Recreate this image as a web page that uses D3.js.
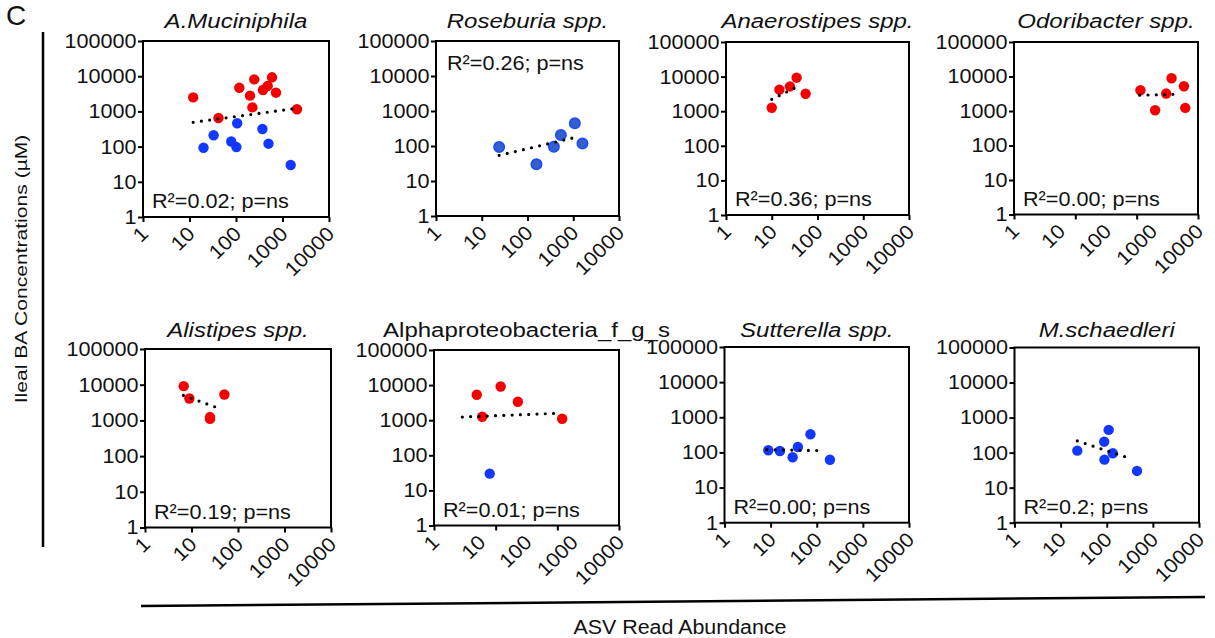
<!DOCTYPE html>
<html>
<head>
<meta charset="utf-8">
<script src="https://cdn.jsdelivr.net/npm/d3@7"></script>
<style>
  body { margin: 0; background: #fff; }
  svg text { font-family: "Liberation Sans", Arial, sans-serif; fill: #111; }
</style>
</head>
<body>
<svg id="chart" width="1215" height="638"></svg>
<script>
// tick labels on both log axes
var xTicks = [1, 10, 100, 1000, 10000];
var yTicks = [1, 10, 100, 1000, 10000, 100000];

var titles = ["A.Muciniphila", "Roseburia spp.", "Anaerostipes spp.", "Odoribacter spp.",
  "Alistipes spp.", "Alphaproteobacteria_f_g_s", "Sutterella spp.", "M.schaedleri"];
var r2Labels = ["R²=0.02; p=ns", "R²=0.26; p=ns", "R²=0.36; p=ns", "R²=0.00; p=ns",
  "R²=0.19; p=ns", "R²=0.01; p=ns", "R²=0.00; p=ns", "R²=0.2; p=ns"];

// points are [ASV read abundance, ileal BA concentration]
var mucRed = [[12, 2500], [42, 650], [118, 4700], [200, 2800], [225, 1300], [247, 8100],
  [380, 4050], [480, 5300], [595, 9300], [725, 3400], [2050, 1150]];
var mucBlue = [[20, 93], [33, 210], [79, 140], [106, 460], [102, 97], [370, 316], [500, 121], [1500, 30]];
var mucTrend = [[12, 490], [2050, 1230]];

var rosBlue = [[24, 93], [157, 30], [377, 95], [537, 205], [1083, 445], [1590, 117]];
var rosTrend = [[24, 54], [1300, 185]];

var anaRed = [[10, 1260], [14.7, 4200], [25, 5200], [35, 9300], [55, 3200]];
var anaTrend = [[10, 2200], [43, 5700]];

var odoRed = [[560, 4000], [1170, 1050], [2030, 3200], [2660, 8900], [4950, 5200], [5280, 1230]];
var odoTrend = [[540, 2870], [4250, 3080]];

var aliRed = [[6.8, 9100], [9, 4100], [25, 1240], [25, 1100], [51, 5300]];
var aliTrend = [[6.7, 5000], [46, 2020]];

var alpRed = [[8.4, 5300], [11, 1250], [27.6, 9100], [65, 3350], [590, 1100]];
var alpBlue = [[16, 30]];
var alpTrend = [[4.1, 1230], [535, 1590]];

var sutBlue = [[8.9, 115], [15.9, 110], [30, 73], [39, 143], [73, 330], [193, 62]];
var sutTrend = [[8.3, 120], [150, 112]];

var mscBlue = [[23, 114], [88, 205], [89, 63], [110, 445], [135, 96], [453, 30]];
var mscTrend = [[23, 215], [348, 66]];

var panels = [
  { red: mucRed, blue: mucBlue, trend: mucTrend },
  { red: [], blue: rosBlue, trend: rosTrend },
  { red: anaRed, blue: [], trend: anaTrend },
  { red: odoRed, blue: [], trend: odoTrend },
  { red: aliRed, blue: [], trend: aliTrend },
  { red: alpRed, blue: alpBlue, trend: alpTrend },
  { red: [], blue: sutBlue, trend: sutTrend },
  { red: [], blue: mscBlue, trend: mscTrend }
];

// layout: plot boxes [x0, y0, x1, y1]
var boxes = [
  [143, 41, 329, 217], [436, 41, 619, 216], [726, 42, 909, 215], [1014, 42, 1198, 214.5],
  [145, 349, 331, 527.5], [434, 350, 619, 525.5], [724.5, 347, 909, 522.7], [1014.5, 347.5, 1199, 522.7]
];
var titleY = [27.5, 336.5];
var tickMarks = [5, 5, 5, 4, 5, 4, 5, 5];   // two panels only have 4 tick marks
var italic = [true, true, true, true, true, false, true, true];
var r2Top = [false, true, false, false, false, false, false, false];
var blueFill = ["#1238ff", "#3560cc", "#1238ff", "#1238ff", "#1238ff", "#1238ff", "#1238ff", "#1238ff"];

var svg = d3.select("#chart");

panels.forEach(function(p, i) {
  var b = boxes[i];
  var x = d3.scaleLog().domain([1, 10000]).range([b[0], b[2]]);
  var y = d3.scaleLog().domain([1, 100000]).range([b[3], b[1]]);
  var g = svg.append("g");

  // y axis
  var yAxis = g.append("g")
    .attr("transform", `translate(${b[0]},0)`)
    .call(d3.axisLeft(y).tickValues(yTicks).tickFormat(d3.format("d"))
      .tickSize(5).tickSizeOuter(0).tickPadding(1.5));
  yAxis.select(".domain").remove();
  yAxis.selectAll("line").attr("stroke", "#000").attr("stroke-width", 2);
  yAxis.selectAll("text").attr("font-size", 20).attr("fill", "#111")
    .attr("class", "stretch").attr("data-k", 1.08);

  // x axis, rotated labels
  var xAxis = g.append("g")
    .attr("transform", `translate(0,${b[3]})`)
    .call(d3.axisBottom(x).tickValues(xTicks).tickFormat(d3.format("d"))
      .tickSize(tickMarks[i] === 5 ? 5 : 0).tickSizeOuter(0));
  xAxis.select(".domain").remove();
  xAxis.selectAll("line").attr("stroke", "#000").attr("stroke-width", 2);
  xAxis.selectAll("text")
    .attr("y", null).attr("dy", null)
    .attr("text-anchor", "end")
    .attr("transform", "translate(6,18) rotate(-45)")
    .attr("font-size", 20).attr("fill", "#111")
    .attr("class", "stretch").attr("data-k", 1.08);

  if (tickMarks[i] !== 5) {
    var tx = d3.scaleLinear().domain([0, tickMarks[i] - 1]).range(x.range());
    var marks = g.append("g")
      .attr("transform", `translate(0,${b[3]})`)
      .call(d3.axisBottom(tx).tickValues(d3.range(tickMarks[i])).tickFormat("")
        .tickSize(5).tickSizeOuter(0));
    marks.select(".domain").remove();
    marks.selectAll("line").attr("stroke", "#000").attr("stroke-width", 2);
  }

  // frame
  g.append("rect")
    .attr("x", b[0]).attr("y", b[1])
    .attr("width", b[2] - b[0]).attr("height", b[3] - b[1])
    .attr("fill", "none").attr("stroke", "#000").attr("stroke-width", 2);

  // points
  g.selectAll("circle.red").data(p.red).enter().append("circle")
    .attr("class", "red")
    .attr("cx", d => x(d[0])).attr("cy", d => y(d[1])).attr("r", 5.2)
    .attr("fill", "#f50000");
  g.selectAll("circle.blue").data(p.blue).enter().append("circle")
    .attr("class", "blue")
    .attr("cx", d => x(d[0])).attr("cy", d => y(d[1])).attr("r", 5.2)
    .attr("fill", blueFill[i])
    .attr("stroke", "#1a4cff").attr("stroke-width", blueFill[i] === "#1238ff" ? 0 : 1.6);

  // dotted trend line on top of the points
  g.append("path")
    .datum(p.trend)
    .attr("d", d3.line().x(d => x(d[0])).y(d => y(d[1])))
    .attr("fill", "none").attr("stroke", "#000")
    .attr("stroke-width", 3.2).attr("stroke-linecap", "round")
    .attr("stroke-dasharray", "0,8.3");

  // title
  g.append("text")
    .attr("x", (b[0] + b[2]) / 2).attr("y", titleY[i < 4 ? 0 : 1])
    .attr("text-anchor", "middle")
    .attr("font-size", 20)
    .attr("font-style", italic[i] ? "italic" : "normal")
    .attr("class", "stretch").attr("data-k", 1.2)
    .text(titles[i]);

  // R2 label
  g.append("text")
    .attr("x", b[0] + (r2Top[i] ? 11 : 9))
    .attr("y", r2Top[i] ? b[1] + 29 : b[3] - 9)
    .attr("font-size", 20)
    .attr("class", "stretch").attr("data-k", 1.08)
    .text(r2Labels[i]);
});

// panel letter
svg.append("text").attr("x", 6).attr("y", 25).attr("font-size", 28).text("C");

// shared y label and its bar
svg.append("line").attr("x1", 43).attr("x2", 43).attr("y1", 32).attr("y2", 547)
  .attr("stroke", "#000").attr("stroke-width", 2.5);
svg.append("text")
  .attr("transform", "translate(27,269) rotate(-90)")
  .attr("text-anchor", "middle").attr("font-size", 17)
  .attr("class", "stretch").attr("data-k", 1.24)
  .text("Ileal BA Concentrations (µM)");

// shared x label and its bar
svg.append("line").attr("x1", 141).attr("x2", 1205).attr("y1", 606).attr("y2", 597)
  .attr("stroke", "#000").attr("stroke-width", 2.5);
svg.append("text")
  .attr("x", 680).attr("y", 634)
  .attr("text-anchor", "middle").attr("font-size", 20)
  .attr("class", "stretch").attr("data-k", 1.07)
  .text("ASV Read Abundance");

// stretch texts horizontally to match the wider lettering
svg.selectAll("text.stretch").each(function() {
  var t = d3.select(this);
  var k = +t.attr("data-k");
  t.attr("textLength", this.getComputedTextLength() * k)
    .attr("lengthAdjust", "spacingAndGlyphs");
});
</script>
</body>
</html>
